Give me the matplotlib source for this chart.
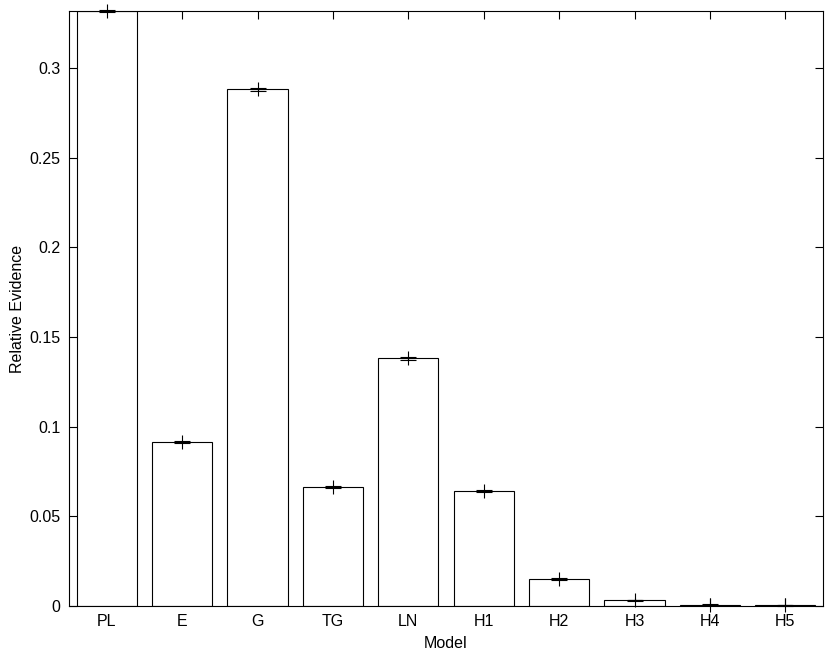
import matplotlib
matplotlib.use("Agg")
import matplotlib.pyplot as plt
import numpy as np

models = ["PL", "E", "G", "TG", "LN", "H1", "H2", "H3", "H4", "H5"]
evidence = [0.3318, 0.0913, 0.2881, 0.0662, 0.1381, 0.0640, 0.0151, 0.0032, 0.0008, 0.0003]
errors = [0.0008, 0.0006, 0.0008, 0.0006, 0.0007, 0.0006, 0.0004, 0.0002, 0.0001, 0.0001]
yticks = [0, 0.05, 0.1, 0.15, 0.2, 0.25, 0.3]
yticklabels = ["0", "0.05", "0.1", "0.15", "0.2", "0.25", "0.3"]

plt.rcParams['font.family'] = ['Liberation Sans', 'DejaVu Sans']
fig = plt.figure(figsize=(8.3, 6.55), dpi=100)
ax = fig.add_axes([69/830, 49/655, 754/830, 595/655])

x = np.arange(1, len(models) + 1)
ax.bar(x, evidence, width=0.8, color="white", edgecolor="black", linewidth=0.8, zorder=2)
eb = ax.errorbar(x, evidence, yerr=errors, fmt="+", color="black", markersize=10,
                 markeredgewidth=0.8, elinewidth=0.8, capsize=6, capthick=1.5, zorder=3)
for artist in eb.get_children():
    artist.set_clip_on(False)

ax.set_xlim(0.5, len(models) + 0.5)
ax.set_ylim(0, max(evidence))
ax.set_xticks(x)
ax.set_xticklabels(models, fontsize=11.5)
ax.set_yticks(yticks)
ax.set_yticklabels(yticklabels, fontsize=11.5)
ax.tick_params(direction="in", length=6, width=0.8, top=True, right=True, pad=6)
for s in ax.spines.values():
    s.set_linewidth(0.8)
ax.set_xlabel("Model", fontsize=11.5, labelpad=5)
ax.set_ylabel("Relative Evidence", fontsize=11.5, labelpad=3)

fig.savefig("out.png", dpi=100)
